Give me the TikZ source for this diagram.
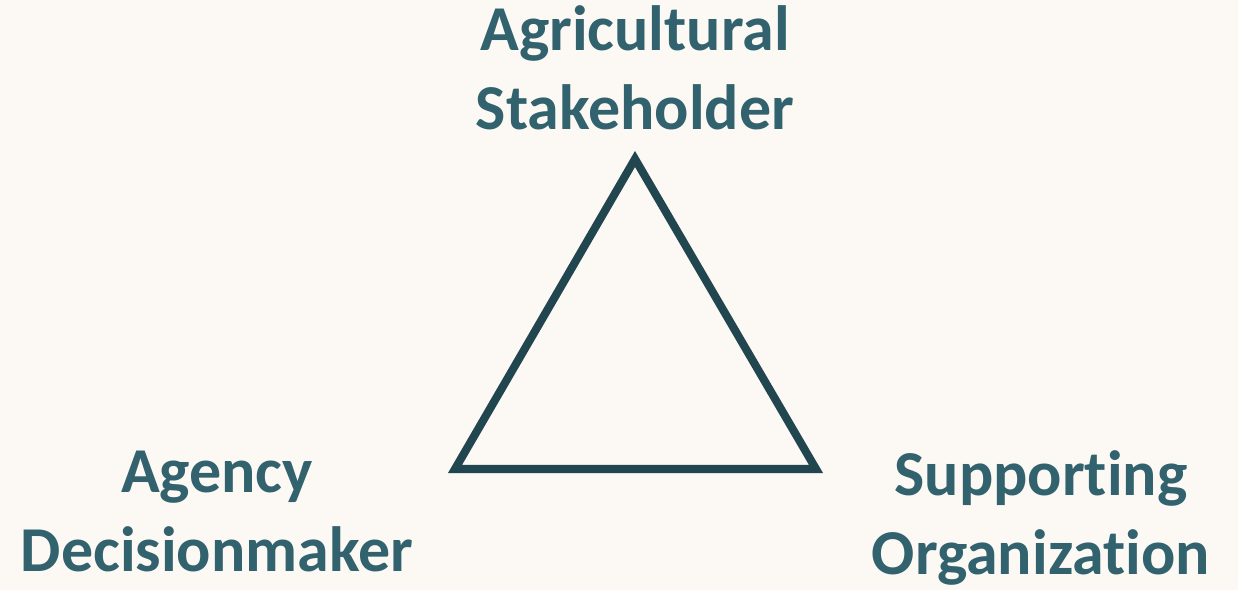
\documentclass[tikz,border=0pt]{standalone}
\usepackage{fontspec}
\setmainfont[Ligatures=NoCommon]{Carlito}
\usepackage{tikz}
\usetikzlibrary{positioning}
\definecolor{cream}{HTML}{FCF8F3}
\definecolor{tealtext}{HTML}{31626E}
\definecolor{tealline}{HTML}{22464F}

\begin{document}
\begin{tikzpicture}[x=0.02cm,y=-0.02cm,
  role/.style={text=tealtext,font=\fontsize{36.4}{45.5}\selectfont\bfseries,align=center,inner sep=0pt,anchor=base},
  edge/.style={draw=tealline,line width=4.6pt,line join=miter}]
\fill[cream] (0,0) rectangle (1238,590);
\useasboundingbox (0,0) rectangle (1238,590);
\coordinate (top) at (635,159);
\coordinate (left) at (455,469);
\coordinate (right) at (816,469);
\node [role] (stakeholder) at (635,130) {Agricultural\\Stakeholder};
\node [role] (agency) at (217,572) {Agency\\Decisionmaker};
\node [role] (support) at (1041,575) {Supporting\\Organization};
\path[edge] (top) -- (right) -- (left) -- cycle;
\end{tikzpicture}
\end{document}
